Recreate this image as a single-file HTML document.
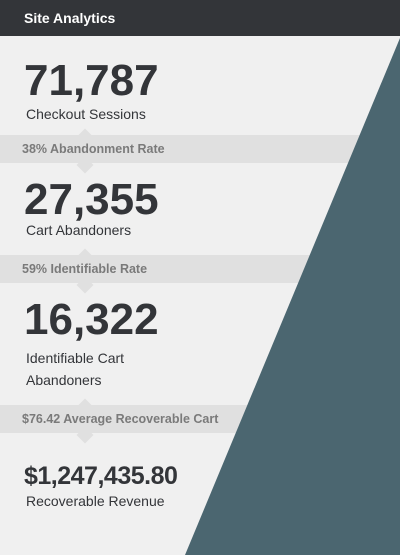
<!DOCTYPE html>
<html><head><meta charset="utf-8"><style>
body{margin:0;width:400px;height:555px;overflow:hidden;background:#f0f0f0;font-family:"Liberation Sans",Arial,sans-serif;position:relative}
.hdr{position:absolute;left:0;top:0;width:400px;height:36px;background:#333539;color:#fff;font-size:14px;font-weight:bold;line-height:37px;padding-left:24px;box-sizing:border-box}
.band{position:absolute;left:0;width:400px;height:28px;background:#e0e0e0;color:#7a7a7a;font-size:12.5px;font-weight:bold;line-height:28px;padding-left:22px;box-sizing:border-box}
.arr{position:absolute;width:12px;height:12px;background:#e0e0e0;transform:rotate(45deg);left:79px}
.num{position:absolute;left:24px;font-weight:bold;color:#333539}
.lbl{position:absolute;left:26px;font-size:14px;color:#333539;line-height:22px}
svg{position:absolute;left:0;top:0}
</style></head><body>
<div class="hdr">Site Analytics</div>
<div class="arr" style="top:131px"></div>
<div class="arr" style="top:159px"></div>
<div class="band" style="top:135px">38% Abandonment Rate</div>
<div class="arr" style="top:251px"></div>
<div class="arr" style="top:279px"></div>
<div class="band" style="top:255px">59% Identifiable Rate</div>
<div class="arr" style="top:401px"></div>
<div class="arr" style="top:429px"></div>
<div class="band" style="top:405px">$76.42 Average Recoverable Cart</div>
<svg width="400" height="555"><polygon points="400,38 400,555 185,555" fill="#4b6670"/></svg>
<div class="num" style="top:56px;font-size:44px">71,787</div>
<div class="lbl" style="top:103px">Checkout Sessions</div>
<div class="num" style="top:175px;font-size:44px">27,355</div>
<div class="lbl" style="top:219px">Cart Abandoners</div>
<div class="num" style="top:295px;font-size:44px">16,322</div>
<div class="lbl" style="top:347px">Identifiable Cart<br>Abandoners</div>
<div class="num" style="top:462px;font-size:25px;letter-spacing:-0.5px">$1,247,435.80</div>
<div class="lbl" style="top:490px">Recoverable Revenue</div>
</body></html>
